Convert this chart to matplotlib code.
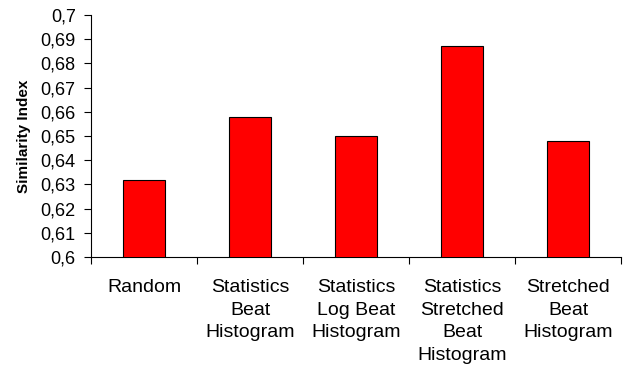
import matplotlib
matplotlib.use("Agg")
import matplotlib.pyplot as plt
from matplotlib.ticker import FixedLocator, FuncFormatter
import numpy as np

plt.rcParams['font.family'] = ['Liberation Sans', 'DejaVu Sans']

categories = ["Random", "Statistics\nBeat\nHistogram", "Statistics\nLog Beat\nHistogram",
              "Statistics\nStretched\nBeat\nHistogram", "Stretched\nBeat\nHistogram"]
values = [0.632, 0.658, 0.650, 0.687, 0.648]
y_ticks = [0.60, 0.61, 0.62, 0.63, 0.64, 0.65, 0.66, 0.67, 0.68, 0.69, 0.70]


def comma_label(v, pos):
    s = f"{v:.2f}"
    if s.endswith("0"):
        s = s[:-1]
    return s.replace(".", ",")


fig = plt.figure(figsize=(6.27, 3.68), dpi=100)
ax = fig.add_axes([91 / 627, 1 - 257 / 368, (621 - 91) / 627, (257 - 15) / 368])

x = np.arange(len(categories))
ax.bar(x, values, width=0.4, color="#ff0000", edgecolor="black", linewidth=0.8, zorder=3)

ax.set_xlim(-0.5, len(categories) - 0.5)
ax.set_ylim(0.6, 0.7)

ax.set_yticks(y_ticks)
ax.yaxis.set_major_formatter(FuncFormatter(comma_label))
ax.tick_params(axis="y", direction="out", length=5, width=0.8, pad=6, labelsize=13)

ax.set_xticks(x)
ax.set_xticklabels(categories)
ax.tick_params(axis="x", which="major", length=0, pad=16, labelsize=14)
for lab in ax.get_xticklabels():
    lab.set_linespacing(1.42)
ax.xaxis.set_minor_locator(FixedLocator(np.arange(-0.5, len(categories), 1.0)))
ax.tick_params(axis="x", which="minor", direction="out", length=5, width=0.8)

for side in ("top", "right"):
    ax.spines[side].set_visible(False)
for side in ("left", "bottom"):
    ax.spines[side].set_linewidth(0.8)

ax.set_ylabel("Similarity Index", fontsize=11, fontweight="bold", labelpad=7)

fig.savefig("out.png", dpi=100)
